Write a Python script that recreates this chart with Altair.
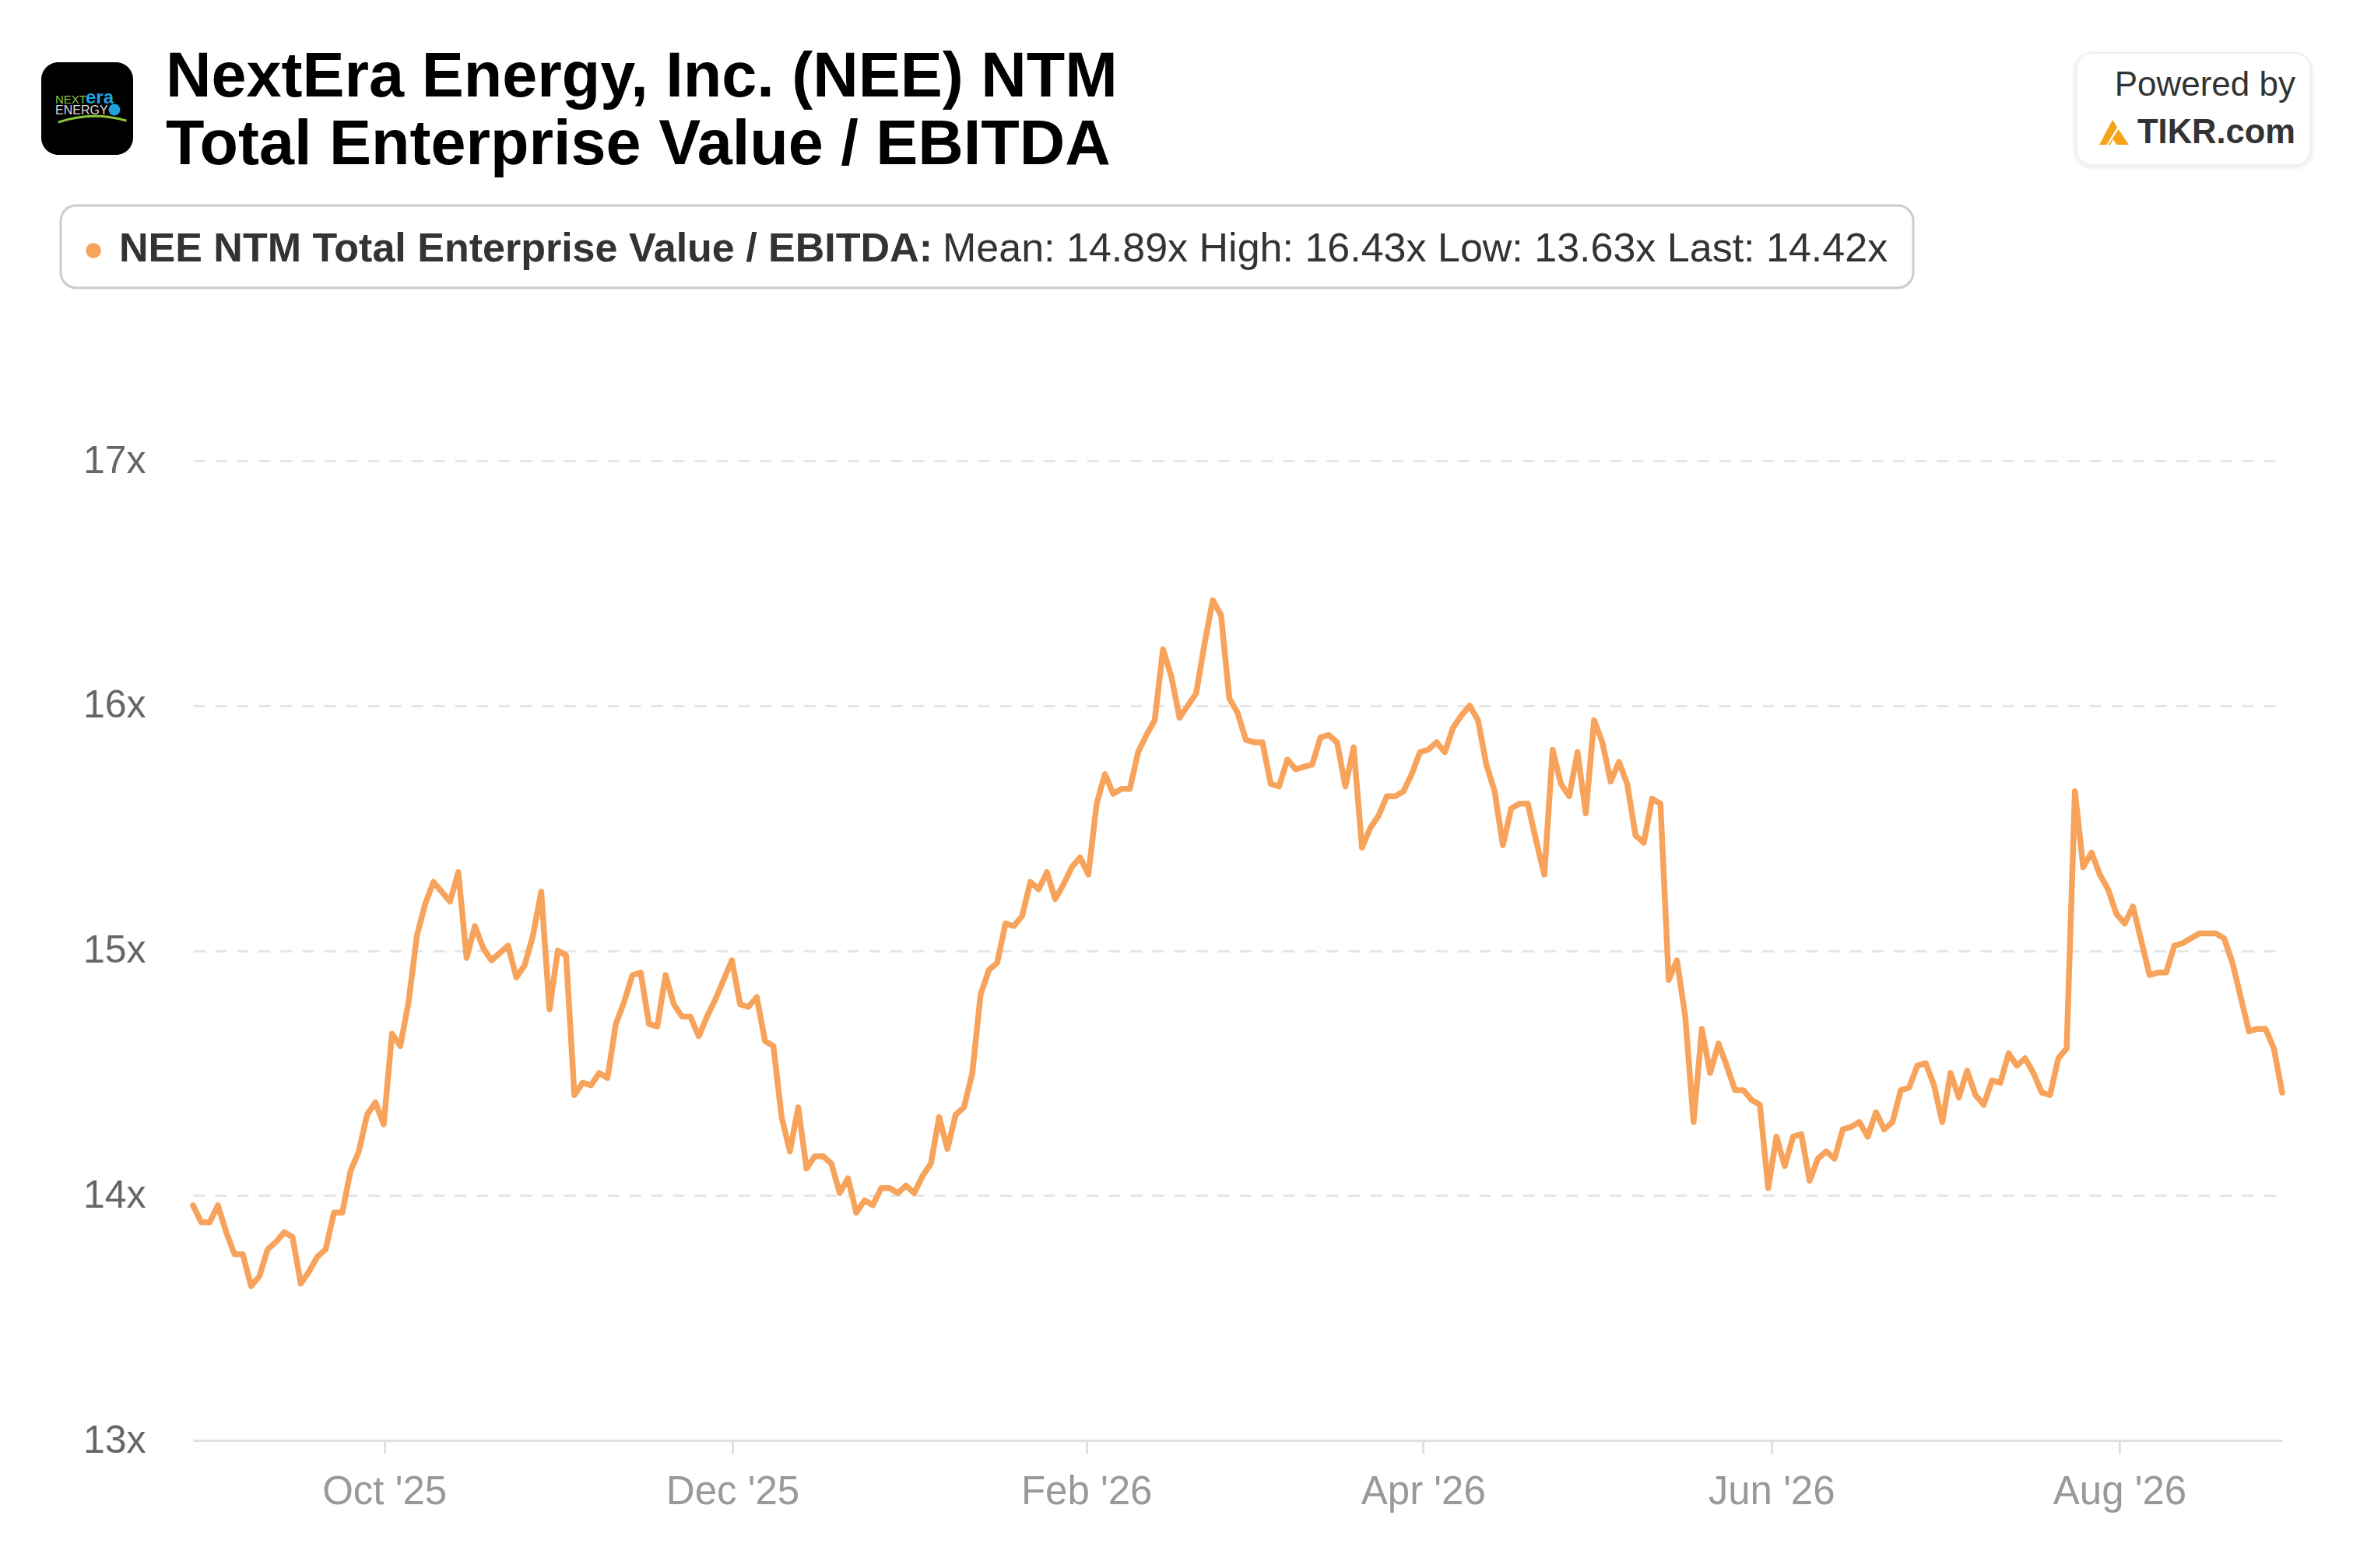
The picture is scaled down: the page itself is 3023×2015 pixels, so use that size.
import altair as alt
import pandas as pd

# ---------------- data ----------------
seg_aug_oct = [13.96, 13.89, 13.89, 13.96, 13.85, 13.76, 13.76, 13.63, 13.67, 13.78,
               13.81, 13.85, 13.83, 13.64, 13.69, 13.75, 13.78, 13.93, 13.93, 14.10,
               14.18, 14.33, 14.38, 14.29, 14.66, 14.61, 14.79, 15.06, 15.19, 15.28,
               15.24, 15.20, 15.32, 14.97, 15.10, 15.01, 14.96, 14.99, 15.02, 14.89,
               14.94, 15.06, 15.24, 14.76, 15.00, 14.98, 14.41]
seg_oct_jan = [14.46, 14.45, 14.50, 14.48, 14.70, 14.79, 14.90, 14.91, 14.70, 14.69,
               14.90, 14.78, 14.73, 14.73, 14.65, 14.73, 14.80, 14.88, 14.96, 14.78,
               14.77, 14.81, 14.63, 14.61, 14.32, 14.18, 14.36, 14.11, 14.16, 14.16,
               14.13, 14.01, 14.07, 13.93, 13.98, 13.96, 14.03, 14.03, 14.01, 14.04,
               14.01, 14.08, 14.13, 14.32, 14.19, 14.33]
seg_jan_mar = [14.36, 14.50, 14.82, 14.92, 14.95, 15.11, 15.10, 15.14, 15.28, 15.25,
               15.32, 15.21, 15.27, 15.34, 15.38, 15.31, 15.60, 15.72, 15.64, 15.66,
               15.66, 15.81, 15.88, 15.94, 16.23, 16.12, 15.95, 16.00, 16.05, 16.25,
               16.43, 16.37, 16.03, 15.97, 15.86, 15.85, 15.85, 15.68, 15.67, 15.78,
               15.74, 15.75, 15.76, 15.87, 15.88, 15.85]
seg_mar_may = [15.67, 15.83, 15.42, 15.50, 15.55, 15.63, 15.63, 15.65, 15.72, 15.81,
               15.82, 15.85, 15.81, 15.91, 15.96, 16.00, 15.94, 15.76, 15.65, 15.43,
               15.58, 15.60, 15.60, 15.45, 15.31, 15.82, 15.68, 15.63, 15.81, 15.56,
               15.94, 15.85, 15.69, 15.77, 15.68, 15.47, 15.44, 15.62, 15.60, 14.88,
               14.96, 14.73, 14.30, 14.68, 14.50, 14.62]
seg_may_jul = [14.53, 14.43, 14.43, 14.39, 14.37, 14.03, 14.24, 14.12, 14.24, 14.25,
               14.06, 14.15, 14.18, 14.15, 14.27, 14.28, 14.30, 14.24, 14.34, 14.27,
               14.30, 14.43, 14.44, 14.53, 14.54, 14.45, 14.30, 14.50, 14.40, 14.51,
               14.41, 14.37, 14.47, 14.46, 14.58, 14.53, 14.56, 14.50, 14.42, 14.41,
               14.56, 14.60]
seg_jul_aug = [15.65, 15.34, 15.40, 15.31, 15.25, 15.15, 15.11, 15.18, 15.04, 14.90,
               14.91, 14.91, 15.02, 15.03, 15.05, 15.07, 15.07, 15.07, 15.05, 14.95,
               14.81, 14.67, 14.68, 14.68, 14.60, 14.42]

multiples = seg_aug_oct + seg_oct_jan + seg_jan_mar + seg_mar_may + seg_may_jul + seg_jul_aug

start_date = (2025, 8, 28, 12)
end_date = (2026, 8, 29, 12)
month_ticks = [(2025, 10, 1), (2025, 12, 1), (2026, 2, 1), (2026, 4, 1), (2026, 6, 1), (2026, 8, 1)]
y_ticks = [13, 14, 15, 16, 17]

title_line1 = "NextEra Energy, Inc. (NEE) NTM"
title_line2 = "Total Enterprise Value / EBITDA"
legend_bold = "NEE NTM Total Enterprise Value / EBITDA:"
legend_stats = "Mean: 14.89x High: 16.43x Low: 13.63x Last: 14.42x"

# ---------------- build ----------------
FONT = "Liberation Sans, Arial, Helvetica, sans-serif"
LINE_COLOR = "#f7a35c"

dates = pd.date_range(pd.Timestamp(*start_date), pd.Timestamp(*end_date), periods=len(multiples))
df = pd.DataFrame({"date": dates, "value": multiples})


def dt(t):
    if len(t) == 4:
        return alt.DateTime(year=t[0], month=t[1], date=t[2], hours=t[3])
    return alt.DateTime(year=t[0], month=t[1], date=t[2])


line = alt.Chart(df).mark_line(
    color=LINE_COLOR, strokeWidth=7.5, strokeJoin="round", strokeCap="round"
).encode(
    x=alt.X("date:T",
            scale=alt.Scale(domain=[dt(start_date), dt(end_date)], nice=False),
            axis=alt.Axis(values=[dt(t) for t in month_ticks], format="%b '%y",
                          labelFont=FONT, labelFontSize=51, labelColor="#999999",
                          labelPadding=24, tickColor="#e0e0e0", tickWidth=3, tickSize=17,
                          domainColor="#e0e0e0", domainWidth=3, grid=False, title=None,
                          labelFlush=False, zindex=1)),
    y=alt.Y("value:Q",
            scale=alt.Scale(domain=[13, 17], nice=False, zero=False),
            axis=alt.Axis(values=y_ticks, labelExpr="datum.value + 'x'",
                          labelFont=FONT, labelFontSize=50, labelColor="#666666",
                          labelPadding=61, ticks=False, domain=False,
                          gridColor="#e6e6e6", gridWidth=3, gridDash=[15, 13], title=None)),
)

base = alt.Chart(pd.DataFrame({"k": [0]}))


def rect(x, x2, y, y2, **kw):
    return base.mark_rect(**kw).encode(x=alt.value(x), x2=alt.value(x2),
                                       y=alt.value(y), y2=alt.value(y2))


def text(s, x, y, size, color, weight="normal", align="left"):
    return base.mark_text(text=s, font=FONT, fontSize=size, color=color,
                          fontWeight=weight, align=align, baseline="alphabetic").encode(
        x=alt.value(x), y=alt.value(y))


# logo
logo_bg = rect(-195, -77, -512, -393, color="#000000", cornerRadius=22)
logo_next = text("NEXT", -177, -459, 15, "#8cc63e")
logo_era = text("era", -138, -459, 24, "#1fa3dc", weight="bold")
logo_energy = text("ENERGY", -177, -445, 16, "#dddddd")
logo_globe = base.mark_circle(color="#1fa3dc", size=220, opacity=1).encode(
    x=alt.value(-101), y=alt.value(-451))
logo_swoosh = base.mark_arc(color="#8cc63e", radius=150, radius2=147,
                            theta=5.96, theta2=6.56).encode(
    x=alt.value(-126), y=alt.value(-294))

# title
t1 = text(title_line1, -35, -468, 81, "#000000", weight="bold")
t2 = text(title_line2, -35, -381, 81, "#000000", weight="bold")

# legend box
leg_box = rect(-170, 2210, -328, -222, fill="#ffffff", stroke="#cccccc",
               strokeWidth=3, cornerRadius=20)
leg_dot = base.mark_circle(color=LINE_COLOR, size=380, opacity=1).encode(
    x=alt.value(-128), y=alt.value(-270))
leg_t1 = text(legend_bold, -95, -256, 52, "#333333", weight="bold")
leg_t2 = text(legend_stats, 963, -256, 52, "#333333")

# powered by box
pb_sh1 = rect(2414, 2726, -526, -373, color="#000000", opacity=0.025, cornerRadius=26)
pb_sh2 = rect(2417, 2723, -525, -376, color="#000000", opacity=0.03, cornerRadius=23)
pb_box = rect(2420, 2720, -524, -380, fill="#ffffff", stroke="#f0f0f0",
              strokeWidth=1.5, cornerRadius=20)
pb_t1 = text("Powered by", 2701, -469, 44, "#333333", align="right")
pb_t2 = text("TIKR.com", 2701, -408, 43.5, "#333333", weight="bold", align="right")
tikr_shape = ("M-1,0.84 L-0.1,-0.84 L0.22,-0.34 L-0.5,0.84 Z "
              "M0.3,-0.21 L1,0.84 L0.15,0.84 L-0.05,0.46 L-0.25,0.84 L-0.38,0.84 Z")
pb_logo = base.mark_point(shape=tikr_shape, filled=True, color="#f5a31a",
                          size=1444, opacity=1, strokeWidth=0).encode(
    x=alt.value(2468), y=alt.value(-422))

chart = alt.layer(
    line,
    logo_bg, logo_next, logo_era, logo_energy, logo_globe, logo_swoosh,
    t1, t2,
    leg_box, leg_dot, leg_t1, leg_t2,
    pb_sh1, pb_sh2, pb_box, pb_t1, pb_t2, pb_logo,
).properties(
    width=2684, height=1259,
    autosize=alt.AutoSizeParams(type="none"),
    padding={"left": 240, "top": 584, "right": 70, "bottom": 140},
    background="#ffffff",
).configure_view(stroke=None)

chart.save("out.html", embed_options={"renderer": "svg", "actions": False})
